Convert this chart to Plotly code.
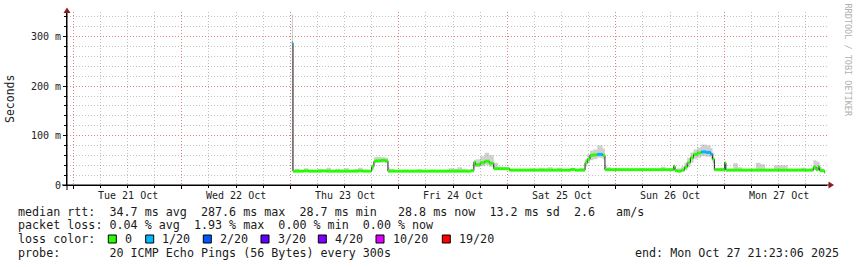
import plotly.graph_objects as go
from datetime import datetime, timedelta

# ---------------- data ----------------
# hours after Thu 23 Oct 2025 00:00 at which each step starts
hours = [0.35, 0.6, 1, 2, 3, 4, 5, 6, 7, 8, 9, 10, 11, 12, 13, 14, 15, 16, 17,
         18, 18.5, 19, 20, 21, 21.6, 22,
         23, 24, 25, 26, 27, 28, 29, 30, 31, 32, 33, 34, 35, 36, 37, 38, 39,
         40, 40.6, 41, 42, 43, 44, 45, 46, 47, 48.5,
         49, 50, 51, 52, 53, 54, 55, 56, 57, 58, 59, 60, 61, 62, 63, 64,
         65.2, 65.7, 66.3, 67, 67.9, 69.1, 69.6, 70,
         71, 72, 73, 74, 75, 76, 77, 78, 79, 80, 81, 82, 83, 84,
         84.8, 85.1, 85.6, 86.5, 87.2, 87.8, 88.5, 89.2, 90, 90.9, 92, 93, 93.4, 93.8, 94, 95, 96, 96.1, 96.35,
         97, 98, 99, 100, 101, 102, 103, 104, 105, 106, 107, 108, 109, 110, 111, 112, 113, 114, 115,
         115.7, 116.3, 116.8, 117.1, 117.6, 118.1]
end_hour = 118.3

median_ms = [287.6, 28, 28, 28, 28.5, 28, 28, 28, 28.5, 28, 28, 28, 28, 28, 28, 28, 28.5, 28, 28,
             37, 48, 49, 50, 49, 28, 28,
             28, 28, 28, 28, 28, 28, 28, 28, 28, 28, 28, 28, 28, 28, 28, 28, 28,
             29, 46, 41, 45, 48, 44, 33, 33, 33, 30,
             30, 30, 30, 30, 30, 30, 30, 30, 30, 30, 30, 30, 30, 31.5, 30, 30,
             45, 52, 60, 61, 62, 60, 31, 31,
             31, 31, 31, 31, 31, 31, 31, 31, 31, 31, 31, 31, 31, 31,
             38, 29, 28, 30, 36, 45, 55, 62, 65, 67, 66, 62, 52, 31, 31, 31, 31, 45, 30,
             30, 30, 30, 30, 30, 30, 30, 30, 30, 30, 30, 30, 30, 30, 30, 30, 30, 30, 30,
             36, 31, 37, 29, 29, 26]

loss_idx = [1, 0, 0, 0, 0, 0, 0, 0, 0, 0, 0, 0, 0, 0, 0, 0, 0, 0, 0,
            0, 0, 0, 0, 0, 0, 0,
            0, 0, 0, 0, 0, 0, 0, 0, 0, 0, 0, 0, 0, 0, 0, 0, 0,
            0, 0, 0, 0, 0, 0, 0, 0, 0, 0,
            0, 0, 0, 0, 0, 0, 0, 0, 0, 0, 0, 0, 0, 0, 0, 0,
            0, 0, 0, 0, 1, 0, 0, 0,
            0, 0, 0, 0, 0, 0, 0, 0, 0, 0, 0, 0, 0, 0,
            0, 0, 0, 0, 0, 0, 0, 0, 0, 1, 1, 1, 0, 0, 0, 0, 0, 0, 0,
            0, 0, 0, 0, 0, 0, 0, 0, 0, 0, 0, 0, 0, 0, 0, 0, 0, 0, 0,
            0, 0, 0, 0, 0, 0]

smoke_min_ms = [28, 27, 27, 27, 27, 27, 27, 27, 27, 27, 27, 27, 27, 27, 27, 27, 27, 27, 27,
                30, 44, 45, 45, 44, 27, 27,
                27, 27, 27, 27, 27, 27, 27, 27, 27, 27, 27, 27, 27, 27, 27, 27, 27,
                27, 36, 36, 38, 40, 37, 31, 31, 31, 29,
                29, 29, 29, 29, 29, 29, 29, 29, 29, 29, 29, 29, 29, 29, 29, 29,
                38, 44, 50, 52, 55, 52, 29, 30,
                30, 30, 30, 30, 30, 30, 30, 30, 30, 30, 30, 30, 30, 30,
                30, 28, 27, 28, 30, 36, 45, 52, 55, 58, 57, 52, 44, 30, 30, 30, 30, 30, 29,
                29, 29, 29, 29, 29, 29, 29, 29, 29, 29, 29, 29, 29, 29, 29, 29, 29, 29, 29,
                30, 29, 30, 28, 28, 25]

smoke_max_ms = [345, 29, 33, 30, 34, 31, 30, 33, 31, 35, 30, 33, 31, 34, 30, 32, 35, 31, 30,
                42, 56, 57, 56, 55, 36, 33,
                30, 29, 31, 30, 30, 32, 30, 30, 31, 30, 30, 31, 34, 33, 36, 32, 31,
                33, 50, 52, 58, 65, 60, 45, 37, 35, 32,
                31, 31, 32, 31, 34, 33, 35, 34, 36, 33, 35, 32, 31, 34, 33, 35,
                52, 62, 70, 72, 80, 74, 40, 36,
                33, 34, 32, 33, 32, 32, 33, 32, 32, 33, 32, 37, 32, 32,
                40, 32, 34, 38, 45, 55, 66, 72, 76, 82, 80, 75, 65, 38, 34, 35, 33, 46, 33,
                33, 44, 36, 32, 32, 33, 45, 42, 33, 32, 40, 40, 40, 33, 32, 33, 35, 32, 34,
                50, 48, 46, 36, 33, 30]

loss_labels = ["0", "1/20", "2/20", "3/20", "4/20", "10/20", "19/20"]
loss_colors = ["#26ff00", "#00b8ff", "#0059ff", "#5e00ff", "#7e00ff", "#dd00ff", "#ff0000"]

day_labels = ["Tue 21 Oct", "Wed 22 Oct", "Thu 23 Oct", "Fri 24 Oct",
              "Sat 25 Oct", "Sun 26 Oct", "Mon 27 Oct"]
y_tick_vals = [0, 100, 200, 300]
y_tick_text = ["0", "100 m", "200 m", "300 m"]

legend_lines = [
    "median rtt:  34.7 ms avg  287.6 ms max  28.7 ms min   28.8 ms now  13.2 ms sd  2.6   am/s",
    "packet loss: 0.04 % avg  1.93 % max  0.00 % min  0.00 % now",
    "loss color:",
    "probe:       20 ICMP Echo Pings (56 Bytes) every 300s",
]
end_text = "end: Mon Oct 27 21:23:06 2025"

# ---------------- figure ----------------
base = datetime(2025, 10, 23)
t = [base + timedelta(hours=h) for h in hours] + [base + timedelta(hours=end_hour)]

def ext(a):
    return list(a) + [a[-1]]

fig = go.Figure()

# smoke band
fig.add_trace(go.Scatter(x=t, y=ext(smoke_min_ms), mode="lines", line=dict(width=0, shape="hv"),
                         hoverinfo="skip", showlegend=False))
fig.add_trace(go.Scatter(x=t, y=ext(smoke_max_ms), mode="lines", line=dict(width=0, shape="hv"),
                         fill="tonexty", fillcolor="rgba(150,150,150,0.45)",
                         hoverinfo="skip", showlegend=False))

# dark median line
fig.add_trace(go.Scatter(x=t, y=ext(median_ms), mode="lines",
                         line=dict(color="#202020", width=1, shape="hv"),
                         hoverinfo="skip", showlegend=False))

# loss-coloured median bands (horizontal pieces only)
for k, col in enumerate(loss_colors):
    xs, ys = [], []
    for i, v in enumerate(median_ms):
        if loss_idx[i] == k:
            xs += [t[i], t[i + 1], None]
            ys += [v, v, None]
    if xs:
        fig.add_trace(go.Scatter(x=xs, y=ys, mode="lines",
                                 line=dict(color=col, width=3),
                                 hoverinfo="skip", showlegend=False))

# geometry helpers (plot area in pixels)
L, R, T, B = 67, 827, 12, 185
W, H = R - L, B - T
def px(x):
    return (x - L) / W
def py(y):
    return (B - y) / H

mono = "DejaVu Sans Mono"
major_grid = "rgba(225,110,110,0.75)"
minor_grid = "rgba(160,160,160,0.65)"

day0 = datetime(2025, 10, 21)
midnights = [day0 + timedelta(days=d) for d in range(7)]
noons = [m + timedelta(hours=12) for m in midnights]

fig.update_layout(
    width=857, height=267,
    margin=dict(l=L, r=857 - R, t=T, b=267 - B, pad=0),
    paper_bgcolor="white", plot_bgcolor="white",
    showlegend=False,
    font=dict(family=mono, size=10, color="#222"),
    xaxis=dict(
        type="date",
        range=["2025-10-20 22:36:24", "2025-10-27 22:43:01"],
        tickvals=midnights, showticklabels=False,
        showgrid=True, gridcolor=major_grid, griddash="1px,2px", gridwidth=1,
        ticks="outside", ticklen=3, tickcolor="#000",
        showline=True, linecolor="#000", linewidth=1, zeroline=False,
        minor=dict(dtick=6 * 3600 * 1000, tick0="2025-10-21", showgrid=True,
                   gridcolor=minor_grid, griddash="1px,2px", ticks="outside",
                   ticklen=2, tickcolor="#000"),
        fixedrange=True,
    ),
    yaxis=dict(
        range=[0, 350],
        tickvals=y_tick_vals, ticktext=y_tick_text,
        tickfont=dict(family=mono, size=10, color="#222"),
        showgrid=True, gridcolor=major_grid, griddash="1px,2px", gridwidth=1,
        ticks="outside", ticklen=3, tickcolor="#000",
        showline=True, linecolor="#000", linewidth=1, zeroline=False,
        minor=dict(dtick=20, showgrid=True, gridcolor=minor_grid, griddash="1px,2px",
                   ticks="outside", ticklen=2, tickcolor="#000"),
        fixedrange=True,
    ),
)

ann = []
for lab, n in zip(day_labels, noons):
    ann.append(dict(x=n, xref="x", y=0, yref="paper", yanchor="top", xanchor="center",
                    yshift=-3, text=lab, showarrow=False,
                    font=dict(family=mono, size=10, color="#222")))
ann.append(dict(x=px(10), y=py(99), xref="paper", yref="paper", text="Seconds",
                textangle=-90, showarrow=False, xanchor="center", yanchor="middle",
                font=dict(family=mono, size=11.5, color="#222")))
ann.append(dict(x=px(847.5), y=py(60), xref="paper", yref="paper", text="RRDTOOL / TOBI OETIKER",
                textangle=90, showarrow=False, xanchor="center", yanchor="middle",
                font=dict(family=mono, size=8.5, color="#b0b0b0")))
line_y = [211.7, 225.3, 239, 252.5]
for txt, yy in zip(legend_lines, line_y):
    ann.append(dict(x=px(16), y=py(yy), xref="paper", yref="paper", text=txt.replace(" ", "&nbsp;"),
                    showarrow=False, xanchor="left", yanchor="middle",
                    font=dict(family=mono, size=11.7, color="#1a1a1a")))
ann.append(dict(x=px(841), y=py(252.5), xref="paper", yref="paper", text=end_text.replace(" ", "&nbsp;"),
                showarrow=False, xanchor="right", yanchor="middle",
                font=dict(family=mono, size=11.7, color="#1a1a1a")))

shapes = []
box_x = [108.3, 145.7, 203.3, 261, 318.3, 376, 442.3]
for bx, col, lab in zip(box_x, loss_colors, loss_labels):
    shapes.append(dict(type="rect", xref="paper", yref="paper",
                       x0=px(bx), x1=px(bx + 8), y0=py(243), y1=py(235),
                       fillcolor=col, line=dict(color="#000", width=1)))
    ann.append(dict(x=px(bx + 14.5), y=py(239), xref="paper", yref="paper",
                    text=lab, showarrow=False, xanchor="left", yanchor="middle",
                    font=dict(family=mono, size=11.7, color="#1a1a1a")))

# axis extensions and arrows
shapes.append(dict(type="line", xref="paper", yref="paper", x0=px(62), x1=px(829),
                   y0=py(185), y1=py(185), line=dict(color="#000", width=1)))
shapes.append(dict(type="line", xref="paper", yref="paper", x0=px(67), x1=px(67),
                   y0=py(190), y1=py(12), line=dict(color="#000", width=1)))
shapes.append(dict(type="path", xref="paper", yref="paper",
                   path=f"M {px(63.5)} {py(13)} L {px(70.5)} {py(13)} L {px(67)} {py(7.5)} Z",
                   fillcolor="#8b1a1a", line=dict(color="#8b1a1a", width=0)))
shapes.append(dict(type="path", xref="paper", yref="paper",
                   path=f"M {px(828.5)} {py(181.5)} L {px(828.5)} {py(188.5)} L {px(834)} {py(185)} Z",
                   fillcolor="#8b1a1a", line=dict(color="#8b1a1a", width=0)))

fig.update_layout(annotations=ann, shapes=shapes)

fig.write_html("out.html", config={"displayModeBar": False})
